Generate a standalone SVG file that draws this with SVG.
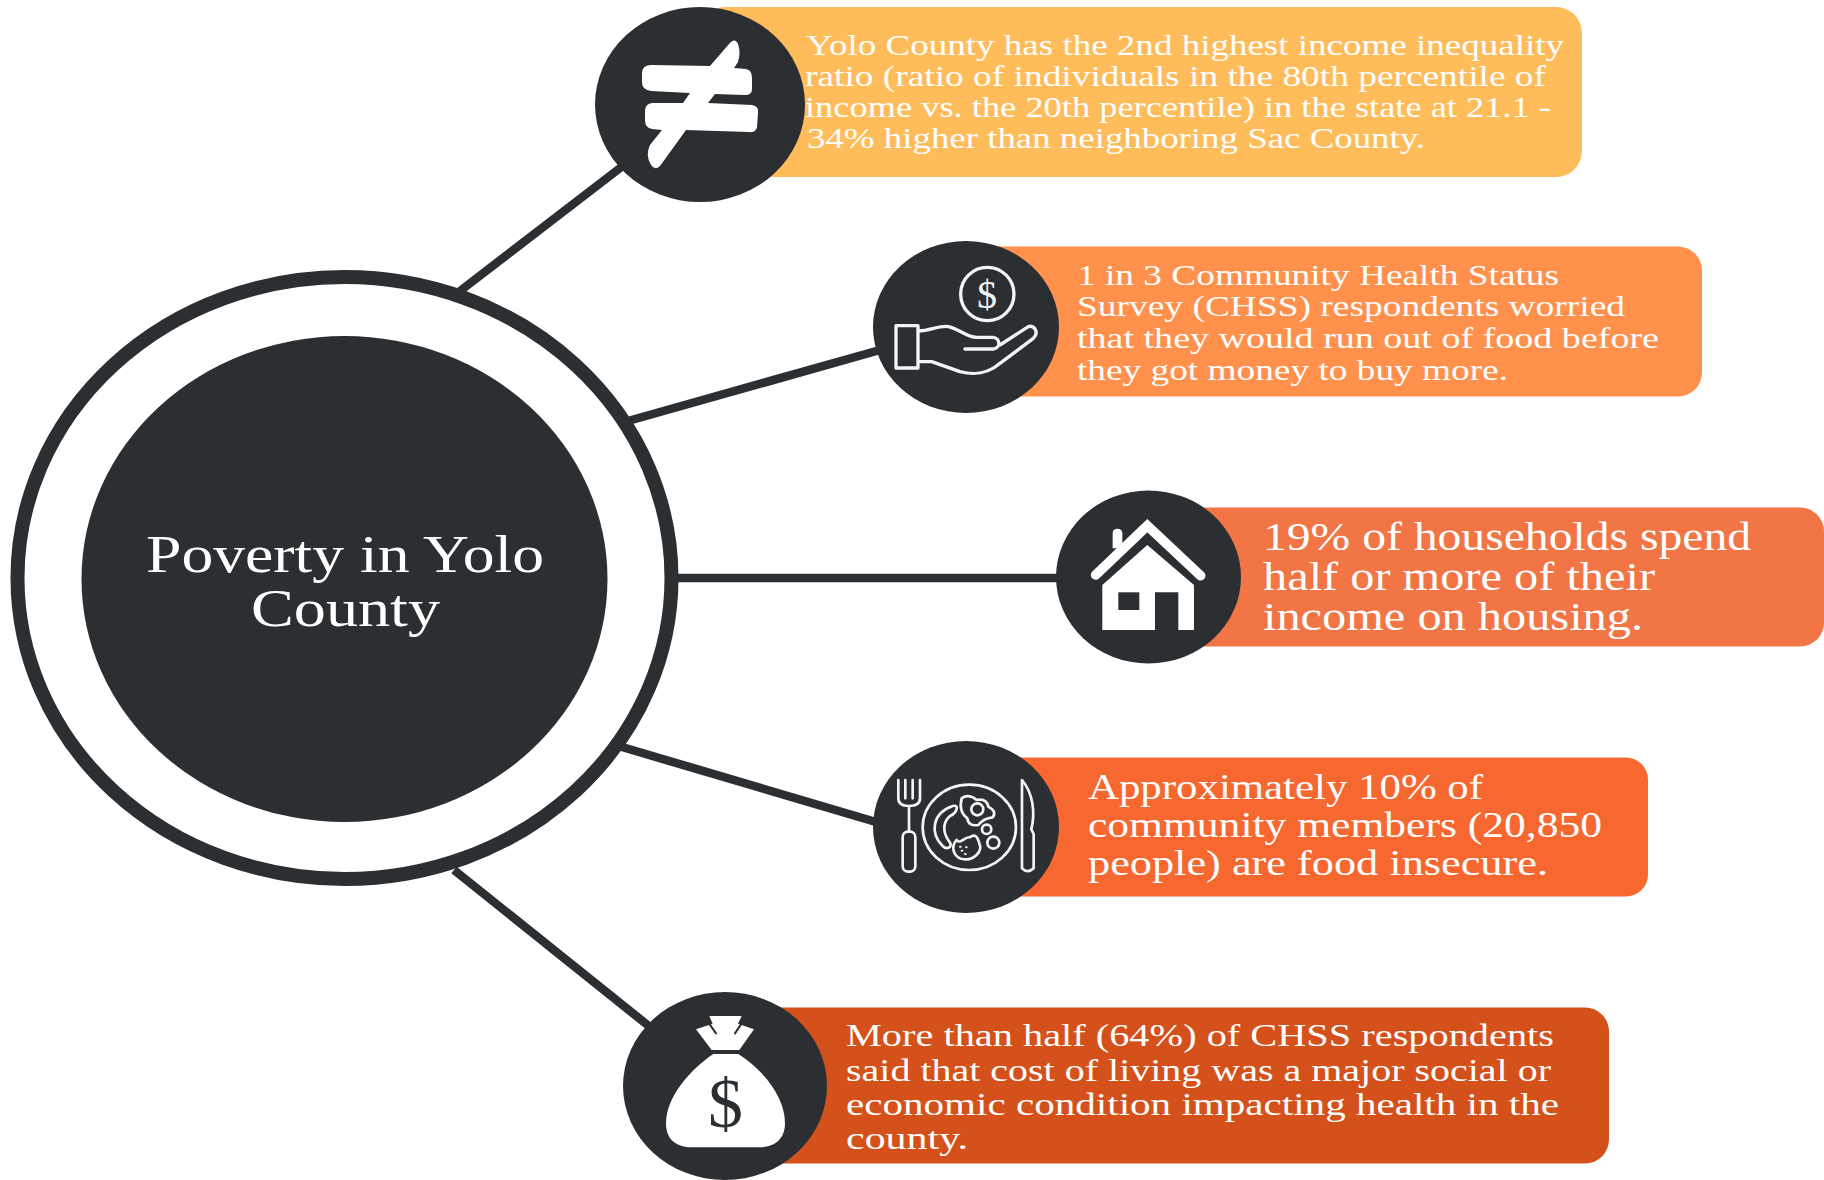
<svg xmlns="http://www.w3.org/2000/svg" width="1824" height="1180" viewBox="0 0 1824 1180">
<style>
.dark{fill:#2b2f32}
.t{font-family:"Liberation Serif","Times New Roman",serif;fill:#fff}
.l{stroke:#2b2f32;stroke-width:8.500;fill:none}
.w{fill:#fff}
.o{fill:none;stroke:#f4f4f4;stroke-linecap:round;stroke-linejoin:round}
</style>
<rect width="1824" height="1180" fill="#fff"/>
<g id="connectors">
<line class="l" x1="460" y1="291" x2="624" y2="165"/>
<line class="l" x1="628" y1="421" x2="880" y2="350"/>
<line class="l" x1="678" y1="578" x2="1058" y2="578"/>
<line class="l" x1="622" y1="747" x2="876" y2="822"/>
<line class="l" x1="454" y1="870" x2="650" y2="1027"/>
</g>
<g id="center">
<ellipse cx="344.500" cy="578" rx="327" ry="301" fill="#fff" stroke="#2b2f32" stroke-width="14"/>
<ellipse class="dark" cx="344.500" cy="579" rx="263" ry="243"/>
<text class="t" font-size="52" x="146" y="572" textLength="398" lengthAdjust="spacingAndGlyphs">Poverty in Yolo</text>
<text class="t" font-size="52" x="251" y="626" textLength="189" lengthAdjust="spacingAndGlyphs">County</text>
</g>
<g id="node-1">
<rect x="700" y="7" width="882" height="170" rx="26" fill="#ffbc5b"/>
<ellipse class="dark" cx="700" cy="104.500" rx="105" ry="97.500"/>
<path class="w" d="M729 44Q735 37 738 44Q741 52 738 62L734 68 746 69Q752 70 752 78L752 89Q752 95 745 95L715 94 708 103 752 105Q759 106 758 113L757 127Q756 133 749 132L686 130 660 166Q655 171 651 165Q645 155 650 145L662 130 652 129Q645 128 645 120L645 110Q646 103 653 103L683 103 690 93 651 91Q642 90 642 82L642 72Q643 65 651 65L710 66Z"/>
<text class="t" font-size="30" x="806" y="55" textLength="758" lengthAdjust="spacingAndGlyphs">Yolo County has the 2nd highest income inequality</text>
<text class="t" font-size="30" x="805" y="86" textLength="741" lengthAdjust="spacingAndGlyphs">ratio (ratio of individuals in the 80th percentile of</text>
<text class="t" font-size="30" x="805" y="117" textLength="746" lengthAdjust="spacingAndGlyphs">income vs. the 20th percentile) in the state at 21.1 -</text>
<text class="t" font-size="30" x="807" y="148" textLength="618" lengthAdjust="spacingAndGlyphs">34% higher than neighboring Sac County.</text>
</g>
<g id="node-2">
<rect x="966" y="246.500" width="736" height="150" rx="24" fill="#ff914d"/>
<ellipse class="dark" cx="966" cy="327" rx="93" ry="86"/>
<g transform="translate(860 230) scale(.3333)" class="o" stroke-width="10">
<circle cx="382" cy="192" r="80"/>
<rect x="108" y="287" width="66" height="127"/>
<path d="M175 303C210 303 240 285 265 290C300 298 320 322 350 322L400 322C422 325 422 355 400 357L315 357M420 345L505 290C525 283 537 310 520 325L420 400C380 435 340 435 300 425L215 395L175 395"/>
</g>
<text font-family="Liberation Serif,Times New Roman,serif" font-size="40" fill="#f4f4f4" text-anchor="middle" x="987" y="308">$</text>
<text class="t" font-size="30" x="1077" y="285" textLength="482" lengthAdjust="spacingAndGlyphs">1 in 3 Community Health Status</text>
<text class="t" font-size="30" x="1077" y="316" textLength="548" lengthAdjust="spacingAndGlyphs">Survey (CHSS) respondents worried</text>
<text class="t" font-size="30" x="1077" y="348" textLength="582" lengthAdjust="spacingAndGlyphs">that they would run out of food before</text>
<text class="t" font-size="30" x="1077" y="380" textLength="431" lengthAdjust="spacingAndGlyphs">they got money to buy more.</text>
</g>
<g id="node-3">
<rect x="1148" y="507.500" width="676" height="139" rx="24" fill="#f27546"/>
<ellipse class="dark" cx="1148.500" cy="577" rx="92.500" ry="86.500"/>
<g transform="translate(1040 480) scale(.3333)">
<path class="w" d="M218 205V160Q218 146 232 146Q247 146 247 160V205Z"/>
<path d="M167 285L322 137L482 287" fill="none" stroke="#fff" stroke-width="29" stroke-linecap="round" stroke-linejoin="miter"/>
<path class="w" d="M187 315L322 195L462 315V450H415V337H345V450H187Z"/>
<rect class="dark" x="235" y="337" width="63" height="53"/>
</g>
<text class="t" font-size="39" x="1263" y="550" textLength="488" lengthAdjust="spacingAndGlyphs">19% of households spend</text>
<text class="t" font-size="39" x="1263" y="590" textLength="392" lengthAdjust="spacingAndGlyphs">half or more of their</text>
<text class="t" font-size="39" x="1263" y="630" textLength="380" lengthAdjust="spacingAndGlyphs">income on housing.</text>
</g>
<g id="node-4">
<rect x="966" y="757.500" width="682" height="139" rx="22" fill="#f76831"/>
<ellipse class="dark" cx="966" cy="827" rx="93" ry="86"/>
<g transform="translate(860 730) scale(.3333)" class="o" stroke-width="8">
<path d="M115 150V205Q115 228 147 228Q180 228 180 205V150M136 150V205M158 150V205M147 228V305"/>
<rect x="128" y="305" width="38" height="120" rx="16"/>
<path d="M486 150C520 190 526 250 514 298L521 312V415Q503 432 486 415Z"/>
<ellipse cx="328" cy="292" rx="140" ry="128"/>
<path d="M305 205Q325 190 350 210Q380 205 385 230Q412 245 398 262Q370 265 355 285Q325 290 322 265Q295 245 305 205Z"/>
<circle cx="352" cy="238" r="18"/>
<path d="M278 228C300 222 290 250 270 258C245 280 250 310 268 335C280 350 262 362 248 348C210 310 215 250 278 228Z"/>
<circle cx="380" cy="298" r="14"/>
<circle cx="400" cy="338" r="18"/>
<path d="M290 330C300 345 315 318 330 322C345 310 352 320 358 340C370 365 340 390 315 388C285 388 268 355 290 330Z"/>
<path d="M305 362h2M318 352h2M315 372h2M300 350h2" stroke-width="6"/>
</g>
<text class="t" font-size="36" x="1088" y="799" textLength="395" lengthAdjust="spacingAndGlyphs">Approximately 10% of</text>
<text class="t" font-size="36" x="1088" y="837" textLength="514" lengthAdjust="spacingAndGlyphs">community members (20,850</text>
<text class="t" font-size="36" x="1088" y="875" textLength="460" lengthAdjust="spacingAndGlyphs">people) are food insecure.</text>
</g>
<g id="node-5">
<rect x="725" y="1007.500" width="884" height="156" rx="24" fill="#d5511c"/>
<ellipse class="dark" cx="725" cy="1086" rx="102" ry="94"/>
<g transform="translate(610 980) scale(.3333)">
<path class="w" d="M298 108H395L384 131L432 148L388 210H305L258 148L308 131Z"/>
<path d="M297 130L318 160M395 130L375 160" stroke="#2b2f32" stroke-width="6" stroke-linecap="round" fill="none"/>
<path class="w" d="M310 222H385C460 270 525 350 525 430C525 480 490 502 450 502H245C200 502 168 480 168 430C168 350 240 270 310 222Z"/>
</g>
<text font-family="Liberation Serif,Times New Roman,serif" font-size="70" class="dark" text-anchor="middle" x="725.500" y="1127">$</text>
<text class="t" font-size="32" x="846" y="1046" textLength="708" lengthAdjust="spacingAndGlyphs">More than half (64%) of CHSS respondents</text>
<text class="t" font-size="32" x="846" y="1081" textLength="705" lengthAdjust="spacingAndGlyphs">said that cost of living was a major social or</text>
<text class="t" font-size="32" x="846" y="1115" textLength="713" lengthAdjust="spacingAndGlyphs">economic condition impacting health in the</text>
<text class="t" font-size="32" x="846" y="1149" textLength="122" lengthAdjust="spacingAndGlyphs">county.</text>
</g>
</svg>
